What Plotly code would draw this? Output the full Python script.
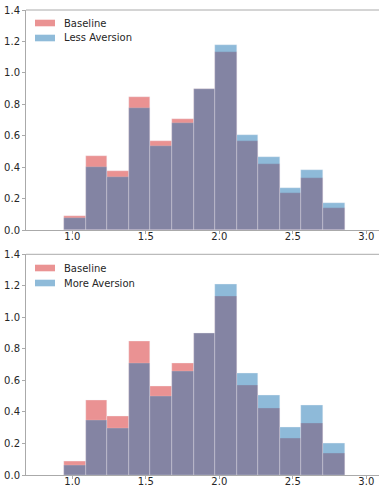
import plotly.graph_objects as go
from plotly.subplots import make_subplots

# ---- data ----
bin_edges = [0.944, 1.091, 1.238, 1.384, 1.531, 1.678, 1.825, 1.972,
             2.118, 2.265, 2.412, 2.559, 2.706, 2.852]
baseline = [0.089, 0.471, 0.375, 0.848, 0.565, 0.707, 0.899, 1.134,
            0.566, 0.422, 0.234, 0.329, 0.139]
less_aversion = [0.076, 0.403, 0.336, 0.779, 0.533, 0.683, 0.899, 1.176,
                 0.605, 0.465, 0.265, 0.382, 0.170]
more_aversion = [0.063, 0.345, 0.296, 0.711, 0.501, 0.660, 0.899, 1.210,
                 0.645, 0.508, 0.300, 0.442, 0.201]
x_ticks = [1.0, 1.5, 2.0, 2.5, 3.0]
y_ticks = [0.0, 0.2, 0.4, 0.6, 0.8, 1.0, 1.2, 1.4]
labels_top = ["Baseline", "Less Aversion"]
labels_bot = ["Baseline", "More Aversion"]

centers = [(a + b) / 2 for a, b in zip(bin_edges[:-1], bin_edges[1:])]
widths = [b - a for a, b in zip(bin_edges[:-1], bin_edges[1:])]

RED = "#d62728"
BLUE = "#1f77b4"
SPINE = "#aaaaaa"
TXT = "#262626"
FONT = "DejaVu Sans"

W, H = 379, 487
L, R, T, B = 26, 0, 10, 12
PW, PH = W - L - R, H - T - B

def px_x(px):
    return (px - L) / PW

def px_y(py):
    return 1 - (py - T) / PH

top_dom = [px_y(230), px_y(10)]
bot_dom = [px_y(475), px_y(254.3)]

fig = make_subplots(rows=2, cols=1)

for row, s2 in [(1, less_aversion), (2, more_aversion)]:
    for vals, col in [(baseline, RED), (s2, BLUE)]:
        fig.add_trace(go.Bar(x=centers, y=vals, width=widths,
                             marker=dict(color=col, line=dict(color="rgba(235,235,240,0.6)", width=0.5)),
                             opacity=0.5, showlegend=False, hoverinfo="skip"),
                      row=row, col=1)

x_range = [1 - 46.3 / 147, 1 - 46.3 / 147 + PW / 147]
axis_common = dict(showline=True, linecolor=SPINE, linewidth=1, ticks="outside",
                   ticklen=3, tickcolor=SPINE, tickwidth=1, showgrid=False,
                   zeroline=False, tickfont=dict(family=FONT, size=10, color=TXT),
                   mirror=False, automargin=False)

for i, dom in [(1, top_dom), (2, bot_dom)]:
    xa = "xaxis" if i == 1 else "xaxis2"
    ya = "yaxis" if i == 1 else "yaxis2"
    fig.layout[xa].update(range=x_range, tickvals=x_ticks, tickformat=".1f",
                          domain=[0, 1], ticklabelstandoff=-6, **axis_common)
    fig.layout[ya].update(range=[0, 1.4], tickvals=y_ticks, tickformat=".1f",
                          domain=dom, **axis_common)

shapes = []
annotations = []
# top spines
for dom in (top_dom, bot_dom):
    shapes.append(dict(type="line", xref="paper", yref="paper", x0=0, x1=1,
                       y0=dom[1], y1=dom[1], line=dict(color=SPINE, width=1)))

# legends (manual patches + text)
for base_y, labs in [(0, labels_top), (245, labels_bot)]:
    for k, (lab, col) in enumerate(zip(labs, [RED, BLUE])):
        yc = base_y + 23 + k * 15
        shapes.append(dict(type="rect", xref="paper", yref="paper",
                           x0=px_x(35), x1=px_x(55), y0=px_y(yc - 3.3), y1=px_y(yc + 3.3),
                           fillcolor=col, opacity=0.5, line=dict(width=0)))
        annotations.append(dict(text=lab, xref="paper", yref="paper",
                                x=px_x(62), y=px_y(yc), xanchor="left", yanchor="middle",
                                showarrow=False, font=dict(family=FONT, size=10, color=TXT)))

fig.update_layout(width=W, height=H, margin=dict(l=L, r=R, t=T, b=B, autoexpand=False),
                  barmode="overlay", bargap=0, plot_bgcolor="white",
                  paper_bgcolor="white", shapes=shapes, annotations=annotations,
                  font=dict(family=FONT, size=10, color=TXT))

fig.write_html("out.html")
